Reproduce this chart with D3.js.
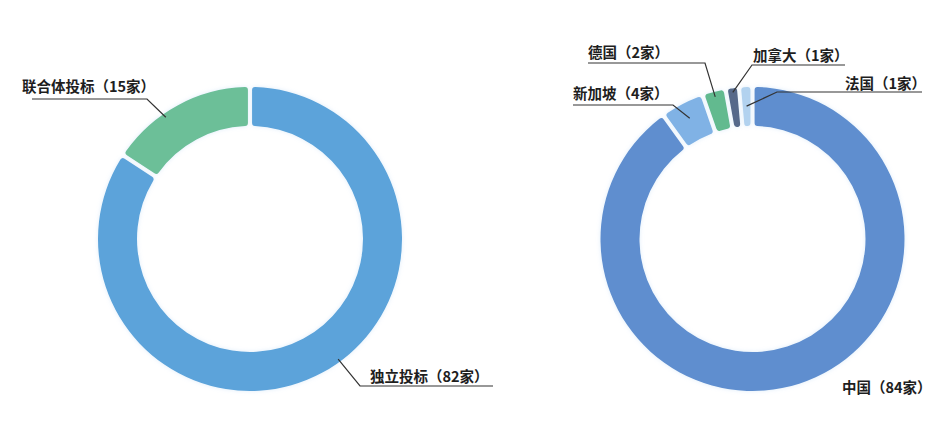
<!DOCTYPE html>
<html>
<head>
<meta charset="utf-8">
<script src="https://cdn.jsdelivr.net/npm/d3@7/dist/d3.min.js"></script>
<style>
  html, body { margin: 0; padding: 0; background: #fff; }
  svg { display: block; }
  text { font-family: "Noto Sans CJK SC", "Noto Sans", sans-serif; font-weight: bold; font-size: 14.5px; fill: #1e1e1e; }
</style>
</head>
<body>
<svg width="947" height="434"></svg>
<script>
// left donut: bid type
var bidNames  = ['独立投标', '联合体投标'];
var bidValues = [82, 15];
var bidColors = ['#5ba3da', '#6cbf98'];

// right donut: country
var countryNames  = ['中国', '新加坡', '德国', '加拿大', '法国'];
var countryValues = [84, 4, 2, 1, 1];
var countryColors = ['#5f8ecf', '#80b2e5', '#62ba8f', '#56698a', '#b2d2ef'];

// label placement (text anchor, elbow, line end), per slice
var bidLabels = [
  { nudge: -8,   r: 149, elbow: [360, 386], end: [493, 386], tx: 370, ty: 382 },
  { nudge: -6.4, r: 148, elbow: [147, 99],  end: [32, 99],   tx: 22,  ty: 92 }
];
var countryLabels = [
  { line: false, tx: 842, ty: 393 },
  { nudge: 0, r: 136, elbow: [673, 105], end: [573, 105], tx: 573, ty: 99 },
  { nudge: 0, r: 147, elbow: [705, 63],  end: [588, 63],  tx: 588, ty: 58 },
  { nudge: 0, r: 148, elbow: [752, 65],  end: [845, 65],  tx: 753, ty: 61 },
  { nudge: 0, r: 133, elbow: [777, 92],  end: [922, 92],  tx: 845, ty: 89 }
];

var svg = d3.select('svg');

var defs = svg.append('defs');
var glow = defs.append('filter').attr('id', 'glow')
  .attr('x', '-20%').attr('y', '-20%').attr('width', '140%').attr('height', '140%');
glow.append('feDropShadow')
  .attr('dx', 0).attr('dy', 0).attr('stdDeviation', 2)
  .attr('flood-color', '#9fcaf0').attr('flood-opacity', 0.35);

function drawDonut(names, values, colors, labels, cx, cy){
  var outer = 152, inner = 113;

  var pie = d3.pie().sort(null).padAngle(0.022);
  var arcs = pie(values);

  var arc = d3.arc()
    .innerRadius(inner)
    .outerRadius(outer)
    .cornerRadius(3);

  var g = svg.append('g')
    .attr('transform', 'translate(' + cx + ',' + cy + ')');

  g.selectAll('path')
    .data(arcs)
    .enter()
    .append('path')
    .attr('d', arc)
    .style('fill', function(d, i) { return colors[i]; })
    .style('filter', 'url(#glow)');

  arcs.forEach(function(d, i){
    var lab = labels[i];
    if (lab.line !== false) {
      var a = (d.startAngle + d.endAngle) / 2 + lab.nudge * Math.PI / 180;
      var p0 = [cx + Math.sin(a) * lab.r, cy - Math.cos(a) * lab.r];
      svg.append('path')
        .attr('d', d3.line()([p0, lab.elbow, lab.end]))
        .style('fill', 'none')
        .style('stroke', '#333')
        .style('stroke-width', 1.2);
    }
    svg.append('text')
      .attr('x', lab.tx)
      .attr('y', lab.ty)
      .text(names[i] + '（' + values[i] + '家）');
  });
}

drawDonut(bidNames, bidValues, bidColors, bidLabels, 250, 239);
drawDonut(countryNames, countryValues, countryColors, countryLabels, 752.5, 239);
</script>
</body>
</html>
